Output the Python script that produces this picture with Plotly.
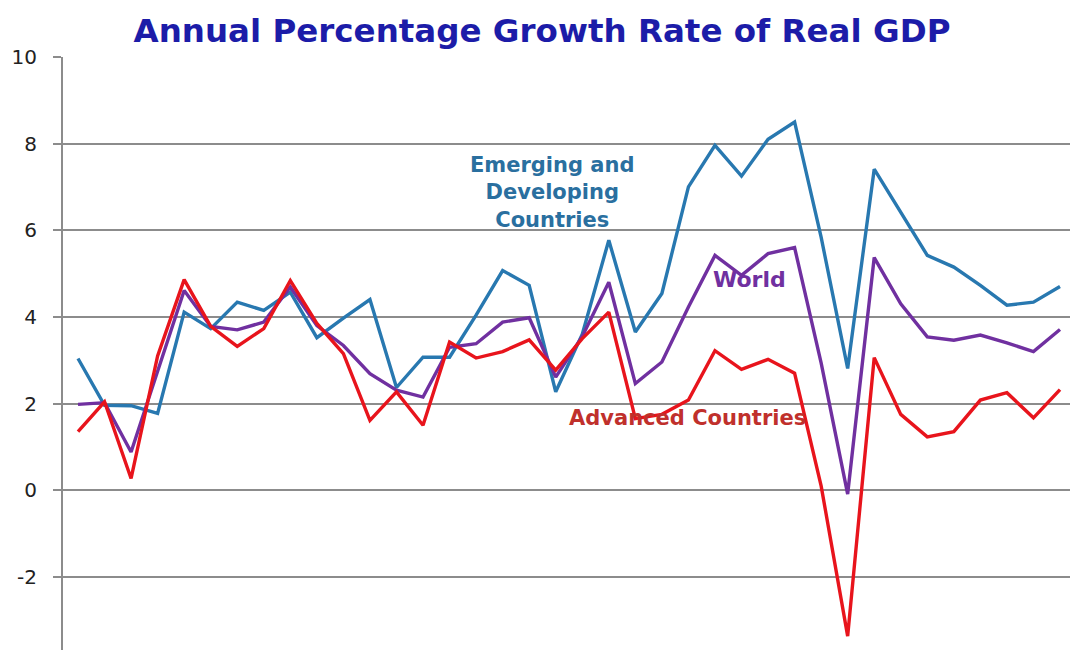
import plotly.graph_objects as go

years = list(range(1980, 2018))

emerging = [3.04, 1.96, 1.95, 1.77, 4.11, 3.73, 4.34, 4.15, 4.57, 3.52,
            3.97, 4.40, 2.37, 3.07, 3.07, 4.04, 5.07, 4.73, 2.27, 3.60,
            5.77, 3.65, 4.54, 7.00, 7.96, 7.25, 8.10, 8.50, 5.84, 2.81,
            7.41, 6.40, 5.42, 5.15, 4.73, 4.27, 4.34, 4.70]

world = [1.98, 2.02, 0.88, 2.75, 4.61, 3.78, 3.70, 3.88, 4.69, 3.80,
         3.34, 2.69, 2.31, 2.15, 3.30, 3.38, 3.88, 3.98, 2.61, 3.55,
         4.80, 2.46, 2.96, 4.23, 5.42, 4.96, 5.46, 5.60, 2.94, -0.09,
         5.37, 4.30, 3.54, 3.46, 3.58, 3.40, 3.20, 3.71]

advanced = [1.35, 2.04, 0.27, 3.10, 4.86, 3.78, 3.32, 3.73, 4.84, 3.85,
            3.15, 1.61, 2.27, 1.50, 3.42, 3.05, 3.20, 3.47, 2.77, 3.50,
            4.11, 1.65, 1.75, 2.08, 3.22, 2.79, 3.02, 2.70, 0.10, -3.37,
            3.06, 1.75, 1.23, 1.35, 2.08, 2.25, 1.67, 2.32]

y_ticks = [-2, 0, 2, 4, 6, 8, 10]
y_tick_text = ["-2", "0", "2", "4", "6", "8", "10"]

series = [
    ("Emerging and Developing Countries", emerging, "#2878b0"),
    ("World", world, "#7030a0"),
    ("Advanced Countries", advanced, "#e8141c"),
]

fig = go.Figure()
for name, values, color in series:
    fig.add_trace(go.Scatter(
        x=years, y=values, name=name, mode="lines",
        line=dict(color=color, width=3.4),
    ))

label_font = "DejaVu Sans"
fig.add_annotation(x=1997.86, y=6.87, xref="x", yref="y", showarrow=False,
                   text="<b>Emerging and<br>Developing<br>Countries</b>",
                   font=dict(family=label_font, size=21, color="#2a6f9f"),
                   align="center")
fig.add_annotation(x=2005.3, y=4.87, xref="x", yref="y", showarrow=False,
                   text="<b>World</b>",
                   font=dict(family=label_font, size=22, color="#7030a0"))
fig.add_annotation(x=2002.98, y=1.66, xref="x", yref="y", showarrow=False,
                   text="<b>Advanced Countries</b>",
                   font=dict(family=label_font, size=21, color="#c0302c"))

fig.update_layout(
    width=1070, height=650,
    margin=dict(l=63, r=0, t=57, b=0),
    paper_bgcolor="white", plot_bgcolor="white",
    showlegend=False,
    title=dict(text="<b>Annual Percentage Growth Rate of Real GDP</b>",
               x=542 / 1070, xanchor="center", y=1 - 31 / 650, yanchor="middle",
               font=dict(family="DejaVu Sans", size=32.5, color="#1c1ca8")),
)
fig.update_xaxes(range=[1979.435, 2017.377], showticklabels=False,
                 showgrid=False, zeroline=False, showline=False, ticks="")
fig.update_yaxes(range=[-3.69, 10], tickvals=y_ticks, ticktext=y_tick_text,
                 showgrid=True, gridcolor="#8c8c8c", gridwidth=2,
                 zeroline=False, showline=True, linecolor="#8c8c8c", linewidth=2,
                 ticks="outside", ticklen=8, tickcolor="#8c8c8c", tickwidth=2,
                 ticklabelstandoff=12,
                 tickfont=dict(family="DejaVu Sans", size=20, color="#222222"))

fig.write_html("out.html")
